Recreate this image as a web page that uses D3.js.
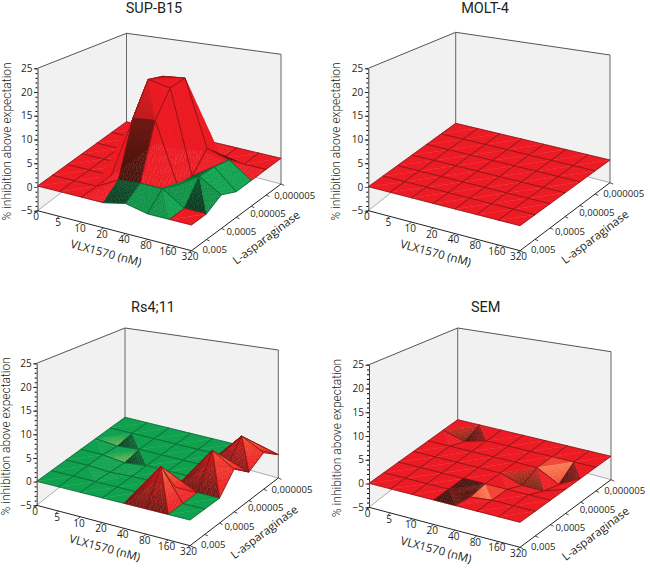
<!DOCTYPE html>
<html><head><meta charset="utf-8">
<script src="https://cdn.jsdelivr.net/npm/d3@7"></script>
<style>html,body{margin:0;background:#fff}svg{display:block}text{font-family:"Open Sans",sans-serif;fill:#231f20}</style>
</head><body><svg id="c" width="650" height="568"></svg>
<script>
const xLabels=["0","5","10","20","40","80","160","320"];
const yLabels=["0,005","","0,0005","","0,00005","","0,000005"];
const zMajor=[-5,0,5,10,15,20,25];
const zMinor=d3.range(-5,26);
// rows: first = L-asparaginase 0,005 ... last = 0,000005; columns follow xLabels
const supB15=[
[0,0,0,0,1,0,0,0],
[0,0,0,2.5,3,3,0,0],
[0,0,0,14,14.5,1.5,4.5,1.7],
[0,0,0,21,20,1,4.3,0],
[0,0,0,20,20.5,5,3.5,0],
[0,0,0,0,1,0,0,0],
[0,0,0,0,0,0,0,0]];
const molt4=[
[0,0,0,0,0,0,0,0],
[0,0,0,0,0,0,0,0],
[0,0,0,0,0,0,0,0],
[0,0,0,0,0,0,0,0],
[0,0,0,0,0,0,0,0],
[0,0,0,0,0,0,0,0],
[0,0,0,0,0,0,0,0]];
const rs411=[
[0,0,0,0,0,0,0,0],
[0,0,0,0,0,6.7,0,0],
[0,0,-0.3,0,0,0,0,0],
[0,0,-0.6,0,0,0,7,4],
[0,-0.5,0,0,0,0,1,1],
[0,0,0,0,0,0,5.7,3],
[0,0,0,0,0,0,0,0]];
const sem=[
[0,0,0,0,0,0,0,0],
[0,0,0,0,-0.5,0,0,0],
[0,0,0,0,0,0,0,0],
[0,0,0,0,0,-1.5,-1.5,0],
[0,0,0,0,0,0,-2.5,0],
[0,-1.5,0,0,0,0,0,0],
[0,0,0,0,0,0,0,0]];
const supGreenCells=[[3,0],[4,0],[5,0],[5,1],[6,1],[5,2],[6,2],[6,3]];
const supDark=[[3,0],[3,1],[6,1,0],[5,4,1]];
const supPlain=[[2,0],[2,1]];
const semDark=[[3,1],[3,0]];
const semLit=[[5,4],[4,1]];

const panels=[
 {title:"SUP-B15",grid:supB15,tx:154,ty:12.5,base:"red",green:supGreenCells,dark:supDark,plain:supPlain,lit:[],autoLit:0,jw:0,diag:0},
 {title:"MOLT-4",grid:molt4,tx:485,ty:12.5,base:"red",green:[],dark:[],plain:[],lit:[],autoLit:0,jw:0,diag:0},
 {title:"Rs4;11",grid:rs411,tx:153,ty:312,base:"green",redAbove:0.5,green:[],dark:[],plain:[],lit:[],autoLit:1,jw:.4,diag:1},
 {title:"SEM",grid:sem,tx:485.7,ty:312,base:"red",green:[],dark:semDark,plain:[],lit:semLit,autoLit:0,jw:.4,diag:0,brownPits:1}
];
const frames=[
 {L:[37.5,210.7,186,68.3],F:[191.5,250.7,225,100.7],R:[281,184,158.3,54.3],B:[126.5,143,121.7,33.3],zx:-30},
 {L:[368.3,210.7,186.7,68.3],F:[520,250.7,225.7,100.7],R:[610,182.7,160,55],B:[455.7,141.3,123.3,32.3],zx:-31},
 {L:[36.7,505.3,481.3,363.3],F:[190,545.7,520,396],R:[278.3,478,454.7,350],B:[125,435.7,417.3,328],zx:-29.5},
 {L:[369,507.3,483.3,364.7],F:[520,547.3,522.3,397],R:[611,479.7,456.3,351.7],B:[457.7,438,419.7,328],zx:-31}
];

const tones={
 red:{base:"#ed1c24",dark:"#3a1008",lit:"#f97b55",line:"#7d1416"},
 green:{base:"#0fa14e",dark:"#07301a",lit:"#b5d652",line:"#0a6232"}
};
const svg=d3.select("#c");
const uScale=d3.scaleLinear().domain([0,xLabels.length-1]).range([0,1]);
const vScale=d3.scaleLinear().domain([0,yLabels.length-1]).range([0,1]);
const clamp=d3.scaleLinear().domain([0,1]).range([0,1]).clamp(true);

panels.forEach((p,pi)=>{
 const f=frames[pi];
 const g=svg.append("g");
 const bil=(k,u,v)=>{
  const a=d3.interpolateNumber(f.L[k],f.F[k])(u), b=d3.interpolateNumber(f.B[k],f.R[k])(u);
  return d3.interpolateNumber(a,b)(v);
 };
 const proj=(i,j,z)=>{
  const u=uScale(i),v=vScale(j);
  const y=d3.scaleLinear().domain([-5,0,25]).range([bil(1,u,v),bil(2,u,v),bil(3,u,v)]);
  return [bil(0,u,v),y(z)];
 };
 const nI=xLabels.length-1,nJ=yLabels.length-1;
 const poly=pts=>"M"+pts.map(q=>q[0].toFixed(2)+","+q[1].toFixed(2)).join("L")+"Z";
 const wl=[proj(0,0,-5),proj(0,0,25),proj(0,nJ,25),proj(0,nJ,-5)];
 const wb=[proj(0,nJ,-5),proj(0,nJ,25),proj(nI,nJ,25),proj(nI,nJ,-5)];
 g.append("path").attr("d",poly(wl)).attr("fill","#f1f1f1");
 g.append("path").attr("d",poly(wb)).attr("fill","#f1f1f1");
 g.append("path").attr("d",poly([proj(0,0,-5),proj(nI,0,-5),proj(nI,nJ,-5),proj(0,nJ,-5)])).attr("fill","#fff");
 const seg=(a,b,c,w)=>g.append("line").attr("x1",a[0]).attr("y1",a[1]).attr("x2",b[0]).attr("y2",b[1]).attr("stroke",c).attr("stroke-width",w);
 seg(proj(0,0,-5),proj(0,nJ,-5),"#8a8a8a",.7);
 seg(proj(0,nJ,-5),proj(nI,nJ,-5),"#8a8a8a",.7);
 seg(proj(0,0,25),proj(0,nJ,25),"#555",1);
 seg(proj(0,nJ,25),proj(nI,nJ,25),"#555",1);
 seg(proj(0,nJ,-5),proj(0,nJ,25),"#666",1);
 seg(proj(nI,nJ,-5),proj(nI,nJ,25),"#666",1);
 // surface: each grid cell is two flat triangles
 const has=(list,i,j,t)=>list.some(c=>c[0]===i&&c[1]===j&&(c.length<3||c[2]===t));
 const surf=g.append("g");
 const order=[];
 for(let j=nJ-1;j>=0;j--)for(let i=0;i<nI;i++)order.push([i,j]);
 const Z=(i,j)=>p.grid[j][i];
 order.forEach(([i,j])=>{
  const zs=[Z(i,j),Z(i+1,j),Z(i+1,j+1),Z(i,j+1)],zmin=d3.min(zs),zmax=d3.max(zs);
  let tone=p.base;
  if(has(p.green,i,j))tone="green";
  if(p.redAbove!==undefined&&zmax>p.redAbove)tone="red";
  const T=tones[tone],flat=zmax===zmin;
  const isPit=zmin<0&&-zmin>=zmax;
  let mainDiag=Math.abs(Z(i,j)-Z(i+1,j+1))>=Math.abs(Z(i+1,j)-Z(i,j+1));
  if(isPit){ // a dip folds along the rim, a hill along its apex
   const lowAt=zs.indexOf(zmin);
   mainDiag=lowAt===1||lowAt===3;
  }
  const A=[i,j],Bq=[i+1,j],C=[i+1,j+1],D=[i,j+1];
  const tris=mainDiag?[[A,D,C],[A,Bq,C]]:[[A,Bq,D],[Bq,C,D]];
  tris.forEach((tr,ti)=>{
   const [a,b,c]=tr.map(q=>({i:q[0],j:q[1],z:Z(q[0],q[1])}));
   const det=(b.i-a.i)*(c.j-a.j)-(c.i-a.i)*(b.j-a.j);
   const si=((b.z-a.z)*(c.j-a.j)-(c.z-a.z)*(b.j-a.j))/det;
   const sj=((c.z-a.z)*(b.i-a.i)-(b.z-a.z)*(c.i-a.i))/det;
   const s=si+p.jw*sj;
   const tmin=Math.min(a.z,b.z,c.z),tmax=Math.max(a.z,b.z,c.z);
   const fDark=has(p.dark,i,j,ti),fLit=has(p.lit,i,j,ti),fPlain=has(p.plain,i,j,ti);
   const triFlat=tmax===tmin;
   const shade=zc=>{
    const t=tmax>tmin?(zc-tmin)/(tmax-tmin):0;
    if(fPlain) return T.base;
    if(fDark) return d3.interpolateLab(T.base,T.dark)(0.92-0.25*t);
    if(fLit) return d3.interpolateLab(T.base,T.lit)(.35+.65*t);
    if(triFlat) return T.base;
    if(isPit){
     if(sj<=0) return T.base; // near side of a dip is hidden in the rim
     if(si>0) return d3.interpolateLab(T.base,T.dark)(.95-.45*t);
     if(p.brownPits) return d3.interpolateLab(T.base,"#6d2a18")(.95-.75*t);
     return d3.interpolateLab(T.base,T.lit)(.42*(1-t));
    }
    if(s>0) return d3.interpolateLab(T.base,T.dark)(Math.pow(clamp(s/5),.6)*(1-.8*t)*.95);
    if(s<0&&p.autoLit) return d3.interpolateLab(T.base,T.lit)(Math.pow(clamp(-s/4),.7)*(.05+.95*t*t));
    if(tone==="green"&&sj>0) return d3.interpolateLab(T.base,T.dark)(.12);
    return T.base;
   };
   const n=triFlat&&!fDark?1:6,subs=[];
   const pt=(r,q)=>{const w0=1-r-q;return {i:w0*a.i+r*b.i+q*c.i,j:w0*a.j+r*b.j+q*c.j,z:w0*a.z+r*b.z+q*c.z};};
   for(let r=0;r<n;r++)for(let q=0;q<n-r;q++){
    subs.push([pt(r/n,q/n),pt((r+1)/n,q/n),pt(r/n,(q+1)/n)]);
    if(r+q<n-1) subs.push([pt((r+1)/n,q/n),pt((r+1)/n,(q+1)/n),pt(r/n,(q+1)/n)]);
   }
   surf.append("g").selectAll("path").data(subs).join("path")
    .attr("d",d=>poly(d.map(v=>proj(v.i,v.j,v.z))))
    .attr("fill",d=>shade(d3.mean(d,v=>v.z)))
    .attr("stroke",d=>shade(d3.mean(d,v=>v.z))).attr("stroke-width",.4);
  });
  surf.append("path").attr("d",poly([A,Bq,C,D].map(q=>proj(q[0],q[1],Z(q[0],q[1])))))
   .attr("fill","none").attr("stroke",T.line).attr("stroke-width",.75).attr("stroke-linejoin","round");
  if(p.diag&&!flat&&tone==="red"){
   const e=mainDiag?[A,C]:[Bq,D];
   surf.append("path").attr("d",poly(e.map(q=>proj(q[0],q[1],Z(q[0],q[1])))))
    .attr("fill","none").attr("stroke",T.line).attr("stroke-width",.6);
  }
 });
 // z axis
 const zScale=d3.scaleLinear().domain([-5,25]).range([f.L[1],f.L[3]]);
 const axG=g.append("g").attr("transform",`translate(${f.L[0]},0)`);
 axG.append("g").call(d3.axisLeft(zScale).tickValues(zMinor).tickSize(2).tickFormat("")).call(s=>s.select(".domain").remove());
 axG.append("g").call(d3.axisLeft(zScale).tickValues(zMajor).tickSize(3.5).tickSizeOuter(0).tickPadding(1.5).tickFormat(d3.format("d")))
  .call(s=>s.select(".domain").attr("stroke","#444"))
  .call(s=>s.selectAll("line").attr("stroke",d=>d===0?"#d8262c":"#222"))
  .call(s=>s.selectAll("text").style("font-size","10px").attr("fill","#231f20").style("font-family",'"Open Sans",sans-serif'));
 // floor axes
 seg(proj(0,0,-5),proj(nI,0,-5),"#222",1);
 seg(proj(nI,0,-5),proj(nI,nJ,-5),"#222",1);
 const xT=g.append("g").selectAll("g").data(xLabels).join("g");
 xT.append("line").each(function(d,k){const q=proj(k,0,-5);
   d3.select(this).attr("x1",q[0]).attr("y1",q[1]).attr("x2",q[0]-3).attr("y2",q[1]+2.2).attr("stroke","#222").attr("stroke-width",.8);});
 xT.append("text").text(d=>d).style("font-size","10px").attr("text-anchor","middle").attr("dominant-baseline","middle")
   .attr("x",(d,k)=>proj(k,0,-5)[0]-1.5).attr("y",(d,k)=>proj(k,0,-5)[1]+7);
 const yT=g.append("g").selectAll("g").data(yLabels).join("g");
 yT.append("line").each(function(d,k){const q=proj(nI,k,-5);
   d3.select(this).attr("x1",q[0]).attr("y1",q[1]).attr("x2",q[0]+3.2).attr("y2",q[1]+1.4).attr("stroke","#222").attr("stroke-width",.8);});
 yT.append("text").text(d=>d).style("font-size","9.6px").attr("dominant-baseline","middle")
   .attr("x",(d,k)=>proj(nI,k,-5)[0]+11-17.7*k/nJ).attr("y",(d,k)=>proj(nI,k,-5)[1]+2*k);
 // titles
 g.append("text").text(p.title).attr("x",p.tx).attr("y",p.ty).attr("text-anchor","middle").style("font-size","14.5px").style("font-family","Roboto,sans-serif");
 const zt=[f.L[0]+f.zx,(f.L[1]+f.L[3])/2+2];
 g.append("text").text("% inhibition above expectation").attr("text-anchor","middle").style("font-size","12px").style("font-family","Roboto,sans-serif").style("font-weight",300)
  .attr("transform",`translate(${zt[0]},${zt[1]}) rotate(-90)`).attr("dominant-baseline","middle");
 const mx=proj(nI/2,0,-5),my=proj(nI,nJ/2,-5);
 g.append("text").text("VLX1570 (nM)").attr("text-anchor","middle").style("font-size","11.5px").attr("dominant-baseline","middle")
  .attr("transform",`translate(${mx[0]-8.7},${mx[1]+23.3}) rotate(15)`);
 g.append("text").text("L-asparaginase").attr("text-anchor","middle").style("font-size","11.5px").attr("dominant-baseline","middle")
  .attr("transform",`translate(${my[0]+30.7},${my[1]+21}) rotate(-37)`);
});
</script></body></html>
